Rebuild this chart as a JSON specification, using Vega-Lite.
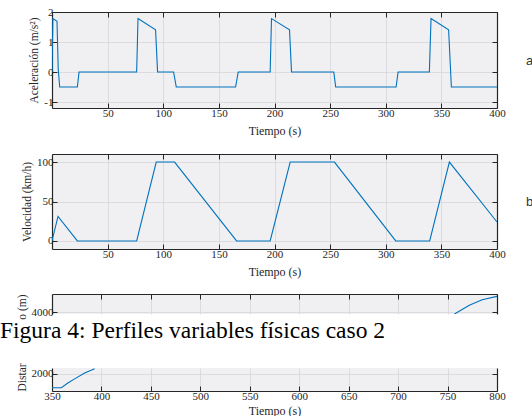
{
  "$schema": "https://vega.github.io/schema/vega-lite/v6.json",
  "padding": {"top": 6, "left": 0, "right": 0, "bottom": 0},
  "background": "white",
  "datasets": {
    "acc": [
      {"t": 0, "a": 0}, {"t": 0.8, "a": 1.78}, {"t": 4.5, "a": 1.69}, {"t": 5.6, "a": 0.1}, {"t": 6.9, "a": -0.5},
      {"t": 22.8, "a": -0.5}, {"t": 24.3, "a": 0}, {"t": 76.1, "a": 0}, {"t": 77.3, "a": 1.78}, {"t": 93.1, "a": 1.41},
      {"t": 94.9, "a": 0}, {"t": 109.3, "a": 0}, {"t": 111.7, "a": -0.5}, {"t": 165, "a": -0.5}, {"t": 167.4, "a": 0},
      {"t": 196.1, "a": 0}, {"t": 197.3, "a": 1.78}, {"t": 213.5, "a": 1.41}, {"t": 215.3, "a": 0}, {"t": 253.3, "a": 0},
      {"t": 255, "a": -0.5}, {"t": 309.3, "a": -0.5}, {"t": 311.1, "a": 0}, {"t": 339.2, "a": 0}, {"t": 340.7, "a": 1.78},
      {"t": 356.5, "a": 1.41}, {"t": 359, "a": -0.5}, {"t": 400, "a": -0.5}
    ],
    "vel": [
      {"t": 0, "v": 0}, {"t": 5.4, "v": 31}, {"t": 22.8, "v": 0}, {"t": 76.1, "v": 0}, {"t": 93.7, "v": 100},
      {"t": 110.2, "v": 100}, {"t": 165.9, "v": 0}, {"t": 196.1, "v": 0}, {"t": 214.1, "v": 100}, {"t": 253.9, "v": 100},
      {"t": 309, "v": 0}, {"t": 339.5, "v": 0}, {"t": 357.2, "v": 100}, {"t": 400, "v": 24}
    ],
    "dist": [
      {"t": 350, "d": 1528}, {"t": 359.5, "d": 1528}, {"t": 366, "d": 1690}, {"t": 372.9, "d": 1831}, {"t": 383, "d": 2034},
      {"t": 393.1, "d": 2179}, {"t": 757, "d": 3946}, {"t": 772, "d": 4243}, {"t": 785, "d": 4428}, {"t": 800, "d": 4539}
    ]
  },
  "config": {
    "font": "Liberation Serif",
    "view": {"stroke": null, "fill": "#f0f0f3"},
    "axis": {
      "labelFont": "Liberation Serif", "titleFont": "Liberation Serif",
      "labelFontSize": 11, "titleFontSize": 11.5, "titleFontWeight": "normal",
      "labelColor": "#262626", "titleColor": "#262626",
      "domainColor": "#262626", "domainWidth": 1.2,
      "tickColor": "#262626", "tickWidth": 1, "tickSize": -5,
      "labelPadding": 4, "titlePadding": 4, "labelFlush": false,
      "gridColor": "#d6d6da", "gridWidth": 0.8
    },
    "axisX": {"titleFontSize": 12}
  },
  "spacing": 17,
  "vconcat": [
    {
      "width": 445, "height": 96,
      "data": {"name": "acc"},
      "layer": [
        {
          "mark": {"type": "line", "color": "#0072bd", "strokeWidth": 1.1, "clip": true},
          "encoding": {
            "x": {"field": "t", "type": "quantitative", "scale": {"domain": [0, 400], "nice": false, "zero": false},
                  "axis": {"orient": "bottom", "values": [50, 100, 150, 200, 250, 300, 350, 400], "title": "Tiempo (s)", "titlePadding": 7, "grid": true}},
            "y": {"field": "a", "type": "quantitative", "scale": {"domain": [-1.2, 2], "nice": false, "zero": false},
                  "axis": {"orient": "left", "values": [-1, 0, 1, 2], "title": "Aceleración (m/s²)", "grid": true, "labelExpr": "datum.value < 0 ? '-' + format(-datum.value, 'd') : format(datum.value, 'd')"}}
          }
        },
        {
          "mark": {"type": "line", "opacity": 0},
          "encoding": {
            "x": {"field": "t", "type": "quantitative",
                  "axis": {"orient": "top", "values": [50, 100, 150, 200, 250, 300, 350, 400], "labels": false, "title": null, "grid": false}},
            "y": {"field": "a", "type": "quantitative",
                  "axis": {"orient": "right", "values": [-1, 0, 1, 2], "labels": false, "grid": false, "title": "a", "titleAngle": 0, "titleAlign": "left", "titleBaseline": "middle", "titlePadding": 28, "titleFont": "Liberation Sans", "titleFontSize": 13, "titleColor": "#333333"}}
          }
        }
      ],
      "resolve": {"axis": {"x": "independent", "y": "independent"}}
    },
    {
      "spacing": 16,
      "vconcat": [
        {
          "width": 445, "height": 95,
          "data": {"name": "vel"},
          "layer": [
            {
              "mark": {"type": "line", "color": "#0072bd", "strokeWidth": 1.1, "clip": true},
              "encoding": {
                "x": {"field": "t", "type": "quantitative", "scale": {"domain": [0, 400], "nice": false, "zero": false},
                      "axis": {"orient": "bottom", "values": [50, 100, 150, 200, 250, 300, 350, 400], "title": "Tiempo (s)", "titlePadding": 7, "grid": true}},
                "y": {"field": "v", "type": "quantitative", "scale": {"domain": [-10.2, 110.2], "nice": false, "zero": false},
                      "axis": {"orient": "left", "values": [0, 50, 100], "title": "Velocidad (km/h)", "grid": true}}
              }
            },
            {
              "mark": {"type": "line", "opacity": 0},
              "encoding": {
                "x": {"field": "t", "type": "quantitative",
                      "axis": {"orient": "top", "values": [50, 100, 150, 200, 250, 300, 350, 400], "labels": false, "title": null, "grid": false}},
                "y": {"field": "v", "type": "quantitative",
                      "axis": {"orient": "right", "values": [0, 50, 100], "labels": false, "grid": false, "title": "b", "titleAngle": 0, "titleAlign": "left", "titleBaseline": "middle", "titlePadding": 28, "titleFont": "Liberation Sans", "titleFontSize": 13, "titleColor": "#333333"}}
              }
            }
          ],
          "resolve": {"axis": {"x": "independent", "y": "independent"}}
        },
        {
          "spacing": 19,
          "vconcat": [
            {
              "width": 445, "height": 20,
              "title": {"text": "Figura 4: Perfiles variables físicas caso 2", "orient": "bottom", "anchor": "start", "frame": "group", "font": "Liberation Serif", "fontSize": 23.5, "fontWeight": "normal", "color": "#000000", "dx": -52, "offset": 0},
              "data": {"name": "dist"},
              "transform": [{"filter": "datum.t >= 757"}],
              "layer": [
                {
                  "mark": {"type": "line", "color": "#0072bd", "strokeWidth": 1.1, "clip": true},
                  "encoding": {
                    "x": {"field": "t", "type": "quantitative", "scale": {"domain": [350, 800], "nice": false, "zero": false},
                          "axis": {"orient": "top", "values": [400, 450, 500, 550, 600, 650, 700, 750, 800], "labels": false, "title": null, "grid": true}},
                    "y": {"field": "d", "type": "quantitative", "scale": {"domain": [3946, 4620], "nice": false, "zero": false},
                          "axis": {"orient": "left", "values": [4000], "format": "d", "title": "o (m)", "titleAnchor": "end", "grid": true}}
                  }
                },
                {
                  "mark": {"type": "line", "opacity": 0},
                  "encoding": {
                    "x": {"field": "t", "type": "quantitative", "axis": null},
                    "y": {"field": "d", "type": "quantitative",
                          "axis": {"orient": "right", "values": [4000], "labels": false, "grid": false, "title": null}}
                  }
                }
              ],
              "resolve": {"axis": {"x": "independent", "y": "independent"}}
            },
            {
              "width": 445, "height": 23,
              "data": {"name": "dist"},
              "transform": [{"filter": "datum.t <= 394"}],
              "layer": [
                {
                  "mark": {"type": "line", "color": "#0072bd", "strokeWidth": 1.1, "clip": true},
                  "encoding": {
                    "x": {"field": "t", "type": "quantitative", "scale": {"domain": [350, 800], "nice": false, "zero": false},
                          "axis": {"orient": "bottom", "values": [350, 400, 450, 500, 550, 600, 650, 700, 750, 800], "title": "Tiempo (s)", "grid": true}},
                    "y": {"field": "d", "type": "quantitative", "scale": {"domain": [1417, 2202], "nice": false, "zero": false},
                          "axis": {"orient": "left", "values": [2000], "format": "d", "title": "Distar", "titleAnchor": "start", "grid": true}}
                  }
                },
                {
                  "mark": {"type": "line", "opacity": 0},
                  "encoding": {
                    "x": {"field": "t", "type": "quantitative", "axis": null},
                    "y": {"field": "d", "type": "quantitative",
                          "axis": {"orient": "right", "values": [2000], "labels": false, "grid": false, "title": null}}
                  }
                }
              ],
              "resolve": {"axis": {"x": "independent", "y": "independent"}}
            }
          ]
        }
      ]
    }
  ]
}
